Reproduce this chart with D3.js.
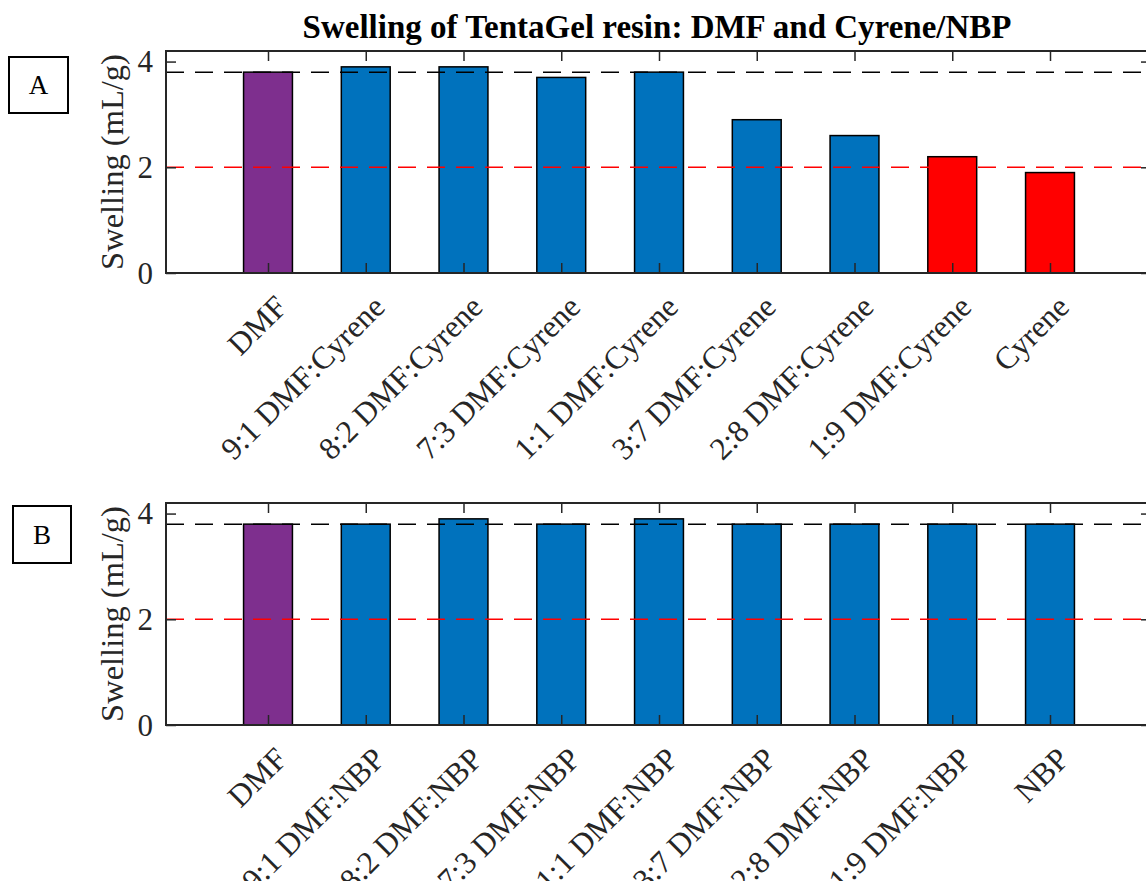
<!DOCTYPE html>
<html>
<head>
<meta charset="utf-8">
<script src="https://cdn.jsdelivr.net/npm/d3@7"></script>
<style>
  html, body { margin: 0; padding: 0; background: #fff; }
  svg { display: block; }
  text { font-family: "Liberation Serif", "Times New Roman", serif; fill: #262626; }
</style>
</head>
<body>
<svg id="chart" width="1146" height="881"></svg>
<script>
// Swelling volumes (mL/g) of TentaGel resin in DMF blends
const categoriesA = ["DMF", "9:1 DMF:Cyrene", "8:2 DMF:Cyrene", "7:3 DMF:Cyrene", "1:1 DMF:Cyrene",
                     "3:7 DMF:Cyrene", "2:8 DMF:Cyrene", "1:9 DMF:Cyrene", "Cyrene"];
const valuesA = [3.8, 3.9, 3.9, 3.7, 3.8, 2.9, 2.6, 2.2, 1.9];

const categoriesB = ["DMF", "9:1 DMF:NBP", "8:2 DMF:NBP", "7:3 DMF:NBP", "1:1 DMF:NBP",
                     "3:7 DMF:NBP", "2:8 DMF:NBP", "1:9 DMF:NBP", "NBP"];
const valuesB = [3.8, 3.8, 3.9, 3.8, 3.9, 3.8, 3.8, 3.8, 3.8];

// bar colour group per category: reference solvent, good swelling, poor swelling
const groupsA = ["ref", "good", "good", "good", "good", "good", "good", "poor", "poor"];
const groupsB = ["ref", "good", "good", "good", "good", "good", "good", "good", "good"];

const yTicks = [0, 2, 4];
const dmfLevel = 3.8;      // DMF reference swelling
const thresholdLevel = 2;  // minimum acceptable swelling

const title = "Swelling of TentaGel resin: DMF and Cyrene/NBP";
const yLabel = "Swelling (mL/g)";

const colors = { ref: "#7E2F8E", good: "#0072BD", poor: "#FF0000" };
const axisColor = "#262626";

const svg = d3.select("#chart");

svg.append("text")
  .attr("x", 657).attr("y", 38)
  .attr("text-anchor", "middle")
  .style("font-weight", "bold")
  .style("font-size", "33px")
  .style("fill", "#000")
  .text(title);

function panel(cfg) {
  const { top, bottom, left, right, cats, vals, groups, letter, box } = cfg;
  const x = d3.scaleLinear().domain([1, cats.length]).range([268, 1050]);
  const y = d3.scaleLinear().domain([0, 4.2]).range([bottom, top]);
  const step = x(2) - x(1);
  const barW = step * 0.5;

  const g = svg.append("g");

  // bars
  g.selectAll("rect.bar").data(vals).join("rect")
    .attr("class", "bar")
    .attr("x", (d, i) => x(i + 1) - barW / 2)
    .attr("width", barW)
    .attr("y", d => y(d))
    .attr("height", d => y(0) - y(d))
    .attr("fill", (d, i) => colors[groups[i]])
    .attr("stroke", "#000")
    .attr("stroke-width", 1.5);

  // reference lines
  [[dmfLevel, "#000"], [thresholdLevel, "#FF0000"]].forEach(([v, c]) => {
    g.append("line")
      .attr("x1", left).attr("x2", right)
      .attr("y1", y(v)).attr("y2", y(v))
      .attr("stroke", c).attr("stroke-width", 1.5)
      .attr("stroke-dasharray", "18,11");
  });

  // axes box with inward ticks on all sides
  const tickLen = 10;
  const xTickVals = d3.range(1, cats.length + 1);
  const axB = d3.axisBottom(x).tickValues(xTickVals).tickSizeInner(-tickLen).tickSizeOuter(0).tickFormat("");
  const axT = d3.axisTop(x).tickValues(xTickVals).tickSizeInner(-tickLen).tickSizeOuter(0).tickFormat("");
  const axL = d3.axisLeft(y).tickValues(yTicks).tickSizeInner(-tickLen).tickSizeOuter(0).tickFormat("");
  const axR = d3.axisRight(y).tickValues(yTicks).tickSizeInner(-tickLen).tickSizeOuter(0).tickFormat("");

  g.append("g").attr("transform", `translate(0,${bottom})`).call(axB);
  g.append("g").attr("transform", `translate(0,${top})`).call(axT);
  g.append("g").attr("transform", `translate(${left},0)`).call(axL);
  g.append("g").attr("transform", `translate(${right},0)`).call(axR);
  g.selectAll(".domain").remove();
  g.selectAll(".tick line").attr("stroke", axisColor).attr("stroke-width", 1.5);

  g.append("rect")
    .attr("x", left).attr("y", top)
    .attr("width", right - left).attr("height", bottom - top)
    .attr("fill", "none").attr("stroke", axisColor).attr("stroke-width", 2);

  // y tick labels
  g.selectAll("text.ytl").data(yTicks).join("text")
    .attr("class", "ytl")
    .attr("x", left - 13)
    .attr("y", d => y(d))
    .attr("dy", "0.35em")
    .attr("text-anchor", "end")
    .style("font-size", "31px")
    .text(d => d);

  // rotated category labels
  g.selectAll("text.xtl").data(cats).join("text")
    .attr("class", "xtl")
    .attr("text-anchor", "end")
    .attr("dy", "0.35em")
    .style("font-size", "31.5px")
    .attr("transform", (d, i) => `translate(${x(i + 1) + 13},${bottom + 28}) rotate(-45)`)
    .text(d => d);

  // y axis title
  g.append("text")
    .attr("transform", `translate(123,${(top + bottom) / 2}) rotate(-90)`)
    .attr("text-anchor", "middle")
    .style("font-size", "32.5px")
    .text(yLabel);

  // panel letter
  g.append("rect")
    .attr("x", box[0]).attr("y", box[1]).attr("width", box[2]).attr("height", box[3])
    .attr("fill", "#fff").attr("stroke", "#000").attr("stroke-width", 2);
  g.append("text")
    .attr("x", box[0] + box[2] / 2).attr("y", box[1] + box[3] / 2)
    .attr("dy", "0.35em")
    .attr("text-anchor", "middle")
    .style("font-size", "27px")
    .style("fill", "#000")
    .text(letter);
}

panel({ top: 51, bottom: 273, left: 166, right: 1151, cats: categoriesA, vals: valuesA,
        groups: groupsA, letter: "A", box: [9, 57, 59, 56] });
panel({ top: 503, bottom: 725, left: 166, right: 1151, cats: categoriesB, vals: valuesB,
        groups: groupsB, letter: "B", box: [13, 506, 58, 57] });
</script>
</body>
</html>
